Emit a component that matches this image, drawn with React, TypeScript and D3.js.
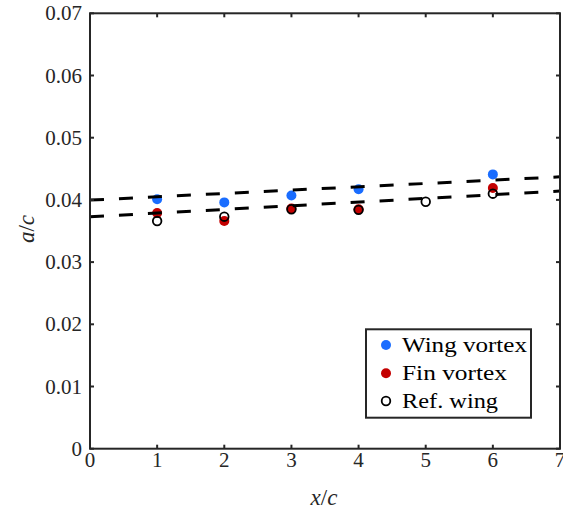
import React from "react";
import * as d3 from "d3";

const xTicks = [0, 1, 2, 3, 4, 5, 6, 7];
const yTicks = [0, 0.01, 0.02, 0.03, 0.04, 0.05, 0.06, 0.07];
const yTickLabels = ["0", "0.01", "0.02", "0.03", "0.04", "0.05", "0.06", "0.07"];

const wingX = [1, 2, 3, 4, 6];
const wingY = [0.0401, 0.0396, 0.0407, 0.0417, 0.0441];
const finX = [1, 2, 3, 4, 6];
const finY = [0.0379, 0.0366, 0.0386, 0.0385, 0.0419];
const refX = [1, 2, 3, 4, 5, 6];
const refY = [0.0366, 0.0373, 0.0385, 0.0384, 0.0397, 0.0410];

const fitX = [0, 7];
const fitUpper = [0.03997, 0.04371];
const fitLower = [0.03729, 0.04142];

const legendLabels = ["Wing vortex", "Fin vortex", "Ref. wing"];
const legendWidths = [125, 105, 96];

const W = 563, H = 517;
const L = 90, R = 560, T = 13.3, B = 448.7;

const FONT = '"Liberation Serif", "DejaVu Serif", "Times New Roman", serif';

export default function App() {
  const x = d3.scaleLinear().domain([0, 7]).range([L, R]);
  const y = d3.scaleLinear().domain([0, 0.07]).range([B, T]);
  const line = d3.line<number>().x((_, i) => x(fitX[i])).y((d) => y(d));
  const blue = "#1a6dff";
  const red = "#c40000";
  const tick = 4;
  const legY = [345, 373.3, 401];
  const ts = { fontFamily: FONT };

  return (
    <svg width={W} height={H} style={{ position: "absolute", left: 0, top: 0 }}>
      <defs>
        <clipPath id="plot">
          <rect x={L} y={T} width={R - L} height={B - T} />
        </clipPath>
      </defs>
      <rect x={0} y={0} width={W} height={H} fill="white" />

      {wingX.map((v, i) => (
        <circle key={"w" + i} cx={x(v)} cy={y(wingY[i])} r={5} fill={blue} />
      ))}
      {finX.map((v, i) => (
        <circle key={"f" + i} cx={x(v)} cy={y(finY[i])} r={5} fill={red} />
      ))}
      {refX.map((v, i) => (
        <circle key={"r" + i} cx={x(v)} cy={y(refY[i])} r={4.3} fill="none" stroke="#000" strokeWidth={1.8} />
      ))}

      <g clipPath="url(#plot)">
        <path d={line(fitUpper) || ""} fill="none" stroke="#000" strokeWidth={3} strokeDasharray="14 15" />
        <path d={line(fitLower) || ""} fill="none" stroke="#000" strokeWidth={3} strokeDasharray="14 15" />
      </g>

      <rect x={L} y={T} width={R - L} height={B - T} fill="none" stroke="#262626" strokeWidth={2} />
      {xTicks.map((t) => (
        <g key={"xt" + t}>
          <line x1={x(t)} x2={x(t)} y1={B} y2={B - tick} stroke="#262626" strokeWidth={2} />
          <line x1={x(t)} x2={x(t)} y1={T} y2={T + tick} stroke="#262626" strokeWidth={2} />
          <text x={x(t)} y={467} fontSize={21} textAnchor="middle" fill="#262626" style={ts}>{t}</text>
        </g>
      ))}
      {yTicks.map((t, i) => (
        <g key={"yt" + i}>
          <line x1={L} x2={L + tick} y1={y(t)} y2={y(t)} stroke="#262626" strokeWidth={2} />
          <line x1={R} x2={R - tick} y1={y(t)} y2={y(t)} stroke="#262626" strokeWidth={2} />
          <text x={82} y={y(t) + 7} fontSize={21} textAnchor="end" fill="#262626" style={ts}>{yTickLabels[i]}</text>
        </g>
      ))}

      <text x={324} y={505} fontSize={23} textAnchor="middle" fill="#262626" style={ts}>
        <tspan fontStyle="italic">x</tspan>/<tspan fontStyle="italic">c</tspan>
      </text>
      <text transform={`translate(34,229) rotate(-90)`} fontSize={23} textAnchor="middle" fill="#262626" style={ts}>
        <tspan fontStyle="italic">a</tspan>/<tspan fontStyle="italic">c</tspan>
      </text>

      <rect x={366} y={329.3} width={165} height={88.4} fill="white" stroke="#262626" strokeWidth={2} />
      <circle cx={386} cy={legY[0]} r={5} fill={blue} />
      <circle cx={386} cy={legY[1]} r={5} fill={red} />
      <circle cx={386} cy={legY[2]} r={4.3} fill="none" stroke="#000" strokeWidth={1.8} />
      {legendLabels.map((lab, i) => (
        <text key={lab} x={402} y={legY[i] + 7} fontSize={21} textLength={legendWidths[i]} lengthAdjust="spacingAndGlyphs" fill="#000" style={ts}>
          {lab}
        </text>
      ))}
    </svg>
  );
}
